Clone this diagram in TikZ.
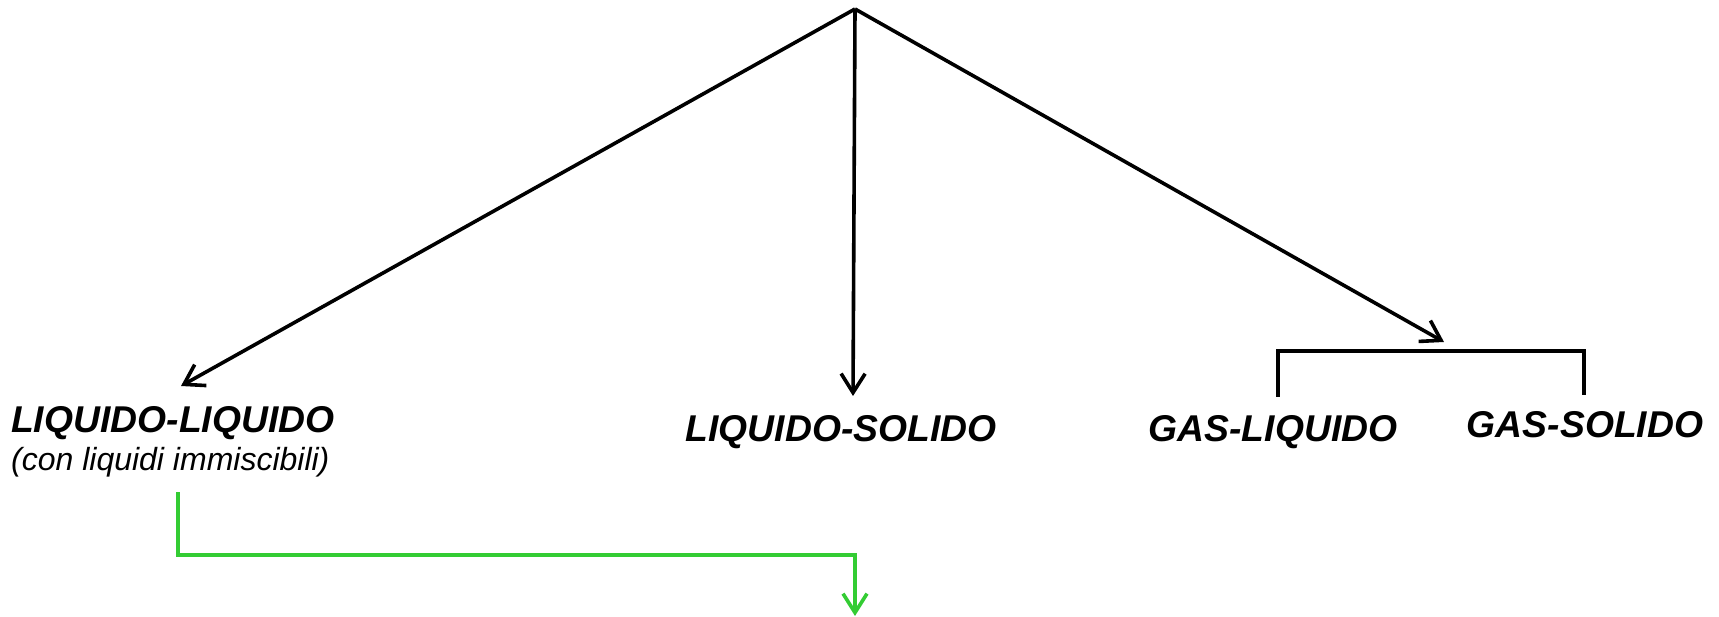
\documentclass[tikz,border=0pt]{standalone}
\usepackage{fontspec}
\setmainfont{Liberation Sans}
\usetikzlibrary{arrows.meta}
\definecolor{lgreen}{HTML}{33CC33}
\begin{document}
\begin{tikzpicture}[x=1pt,y=-1pt,
  conn/.style={line width=3.6pt},
  tip/.style={-{Straight Barb[length=19pt,width=24pt]}},
  lab/.style={font=\fontsize{37.3}{40}\selectfont\bfseries\itshape, inner sep=0pt},
  sublab/.style={font=\fontsize{32}{36}\selectfont\itshape, inner sep=0pt}]
\useasboundingbox (0,0) rectangle (1719,617);
\coordinate (apex) at (855,9);
\coordinate (tl) at (181,386);
\coordinate (tm) at (853,396);
\coordinate (tr) at (1444,342);
\coordinate (bl) at (1278,397);
\coordinate (br) at (1584,395);
\coordinate (bll) at (1278,351);
\coordinate (brr) at (1584,351);
\coordinate (gs) at (178,492);
\coordinate (ge) at (855,616);

\node[lab, anchor=base west] (ll) at (11,432) {LIQUIDO-LIQUIDO};
\node[sublab, anchor=base west] (llsub) at (11,470) {(con liquidi immiscibili)};
\node[lab, anchor=base] (ls) at (841,442) {LIQUIDO-SOLIDO};
\node[lab, anchor=base] (gl) at (1273,442) {GAS-LIQUIDO};
\node[lab, anchor=base] (gsol) at (1585,437) {GAS-SOLIDO};

\draw[conn, tip] (apex) -- (tl);
\draw[conn, tip] (apex) -- (tm);
\draw[conn, tip] (apex) -- (tr);
\draw[conn] (bl) -- (bll) -- (brr) -- (br);
\draw[conn, lgreen, tip] (gs) |- (855,555) -- (ge);
\end{tikzpicture}
\end{document}
